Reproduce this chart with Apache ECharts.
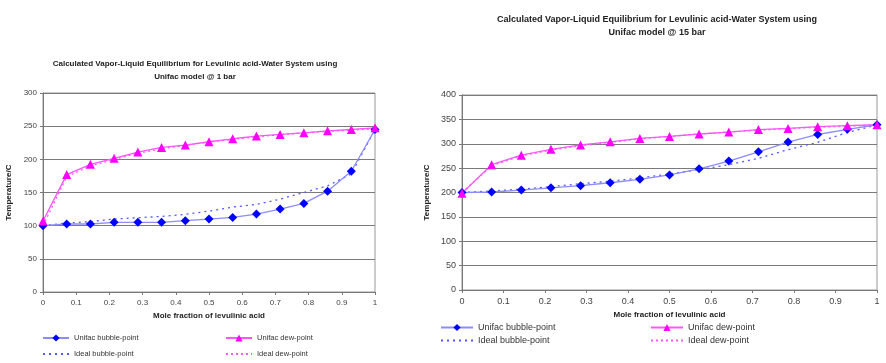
<!DOCTYPE html>
<html><head><meta charset="utf-8">
<script src="https://cdn.jsdelivr.net/npm/echarts@6/dist/echarts.min.js"></script>
<style>html,body{margin:0;padding:0;background:#fff}#c{width:886px;height:363px}</style>
</head><body><div id="c"></div>
<script>
const xFrac = [0, 0.0714, 0.1429, 0.2143, 0.2857, 0.3571, 0.4286, 0.5, 0.5714, 0.6429, 0.7143, 0.7857, 0.8571, 0.9286, 1];
const xTicks = ['0','0.1','0.2','0.3','0.4','0.5','0.6','0.7','0.8','0.9','1'];
// 1 bar
const bubble1 = [100, 102.5, 102.5, 105, 105, 105, 107.5, 110, 112.5, 117.5, 125, 133.5, 152, 182, 245];
const dew1 = [107, 177, 192.5, 201.5, 211, 218, 221.5, 226.5, 231, 235, 237.5, 240, 243, 245, 247.5];
const idealBubble1 = [100, 104, 106, 110, 112, 114, 117, 122, 128, 132, 140, 150, 160, 178, 245];
const idealDew1 = [100, 174, 190, 200, 209, 216, 221, 226, 230, 234, 237, 240, 242, 244, 246];
// 15 bar
const bubble15 = [200, 201, 205, 209.5, 214, 220, 227, 236, 248.5, 264.5, 283.5, 303.5, 319, 329.5, 339];
const dew15 = [198.5, 257, 276.5, 288.5, 297.5, 304, 311, 315, 320, 324, 329, 331.5, 335, 337, 339];
const idealBubble15 = [200, 203, 207, 212, 218, 223, 230, 238, 247, 257, 270, 288, 303, 323, 339];
const idealDew15 = [200, 255, 275, 287, 296, 303, 310, 315, 320, 324, 328, 331, 334, 336, 339];
const names = ['Unifac bubble-point','Unifac dew-point','Ideal bubble-point','Ideal dew-point'];

const pairs = a => xFrac.map((x,i)=>[x,a[i]]);
const F = 'Liberation Sans, Arial, sans-serif';
const chart = echarts.init(document.getElementById('c'));

function axesFor(gi, ymax, fs){
  return {
    x: {type:'value', gridIndex:gi, min:0, max:1, interval:0.1,
        name:'Mole fraction of levulinic acid', nameLocation:'middle', nameGap: gi===0?16:18,
        nameTextStyle:{fontFamily:F, fontSize:8, fontWeight:'bold', color:'#222'},
        axisLine:{lineStyle:{color:'#777'}}, axisTick:{show:true, length:3, lineStyle:{color:'#777'}},
        axisLabel:{fontFamily:F, fontSize:fs, color:'#444', margin:7, formatter:v=>xTicks[Math.round(v*10)]},
        splitLine:{show:false}},
    y: {type:'value', gridIndex:gi, min:0, max:ymax, interval:50,
        name:'Temperature/C', nameLocation:'middle', nameGap: gi===0?30:31, nameRotate:90,
        nameTextStyle:{fontFamily:F, fontSize:8, fontWeight:'bold', color:'#222'},
        axisLine:{show:true, lineStyle:{color:'#777'}}, axisTick:{show:true, length:3, lineStyle:{color:'#777'}},
        axisLabel:{fontFamily:F, fontSize:fs, color:'#444', margin:6},
        splitLine:{show:true, lineStyle:{color:'#7a7a7a', width:1}}}
  };
}
const a0 = axesFor(0, 300, 8), a1 = axesFor(1, 400, 9);

function seriesFor(gi, b, d, ib, idw){
  return [
    {name:names[0], type:'line', xAxisIndex:gi, yAxisIndex:gi, data:pairs(b), symbol:'diamond', symbolSize:9,
     itemStyle:{color:'#0000ff'}, lineStyle:{color:'#8c8cff', width:1.3}, z:4},
    {name:names[1], type:'line', xAxisIndex:gi, yAxisIndex:gi, data:pairs(d), symbol:'triangle', symbolSize:9,
     itemStyle:{color:'#ff00ff'}, lineStyle:{color:'#ff55ff', width:1.3}, z:4},
    {name:names[2], type:'line', xAxisIndex:gi, yAxisIndex:gi, data:pairs(ib), symbol:'none',
     itemStyle:{color:'#5555ff'}, lineStyle:{color:'#5555ff', width:1.3, type:[2,4]}, z:3},
    {name:names[3], type:'line', xAxisIndex:gi, yAxisIndex:gi, data:pairs(idw), symbol:'none',
     itemStyle:{color:'#ff55ff'}, lineStyle:{color:'#ff55ff', width:1.3, type:[2,3]}, z:3}
  ];
}

function leg(name, left, top, fs, iw, noSym){
  const l = {data:[name], left:left, top:top, itemWidth:iw, itemHeight:9, itemGap:0, padding:0,
          textStyle:{fontFamily:F, fontSize:fs, color:'#333'}, selectedMode:false};
  if (noSym) l.itemStyle = {opacity:0};
  return l;
}

chart.setOption({
  animation:false,
  backgroundColor:'#fff',
  title:[
    {text:'Calculated Vapor-Liquid Equilibrium for Levulinic acid-Water System using\nUnifac model @ 1 bar',
     left:190, top:52, textAlign:'center',
     textStyle:{fontFamily:F, fontSize:8, fontWeight:'bold', color:'#222', lineHeight:13}},
    {text:'Calculated Vapor-Liquid Equilibrium for Levulinic acid-Water System using\nUnifac model @ 15 bar',
     left:652, top:8, textAlign:'center',
     textStyle:{fontFamily:F, fontSize:9, fontWeight:'bold', color:'#222', lineHeight:13}}
  ],
  grid:[
    {left:43, top:93, width:332, height:199, show:true, borderColor:'#999', borderWidth:1, backgroundColor:'#fff'},
    {left:462, top:95, width:415, height:195, show:true, borderColor:'#999', borderWidth:1, backgroundColor:'#fff'}
  ],
  xAxis:[a0.x, a1.x],
  yAxis:[a0.y, a1.y],
  legend:[
    leg(names[0], 42, 334, 7.5, 26), leg(names[1], 225, 334, 7.5, 26),
    leg(names[2], 42, 350, 7.5, 26, true), leg(names[3], 225, 350, 7.5, 26, true),
    leg(names[0], 440, 323, 9, 32), leg(names[1], 650, 323, 9, 32),
    leg(names[2], 440, 336, 9, 32, true), leg(names[3], 650, 336, 9, 32, true)
  ],
  series:[...seriesFor(0, bubble1, dew1, idealBubble1, idealDew1),
          ...seriesFor(1, bubble15, dew15, idealBubble15, idealDew15)]
});
</script></body></html>
